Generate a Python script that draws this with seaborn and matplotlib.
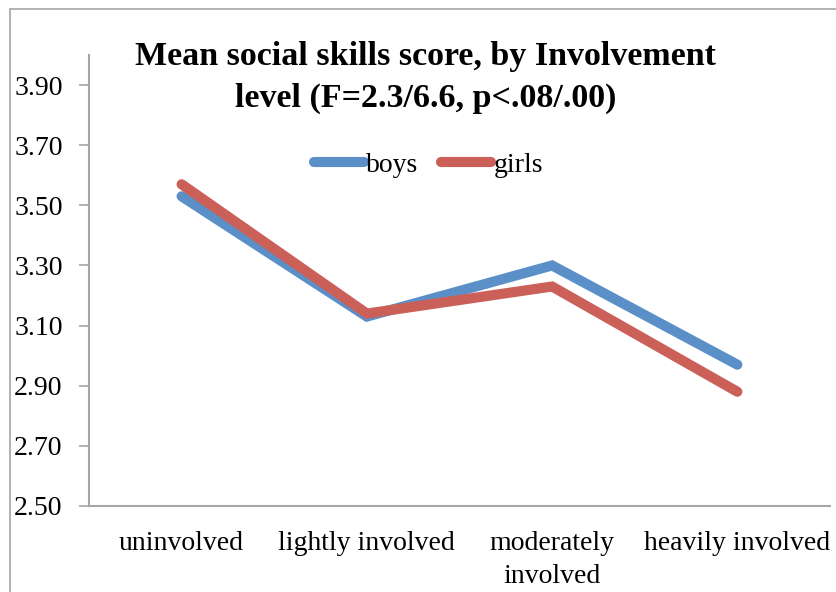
import numpy as np
import pandas as pd
import matplotlib
matplotlib.use('Agg')
import matplotlib.pyplot as plt
from matplotlib.lines import Line2D
import seaborn as sns

levels = ['uninvolved', 'lightly involved', 'moderately\ninvolved', 'heavily involved']
boys = [3.53, 3.13, 3.30, 2.97]
girls = [3.57, 3.14, 3.23, 2.88]
yticks = [2.50, 2.70, 2.90, 3.10, 3.30, 3.50, 3.70, 3.90]

df = pd.DataFrame({
    'level': levels * 2,
    'score': boys + girls,
    'group': ['boys'] * 4 + ['girls'] * 4,
})

sns.set_style('white')
plt.rcParams['font.family'] = ['Liberation Serif', 'DejaVu Serif']
plt.rcParams['text.color'] = 'black'
plt.rcParams['xtick.color'] = 'black'
plt.rcParams['ytick.color'] = 'black'

fig = plt.figure(figsize=(8.37, 5.92), dpi=100)
ax = fig.add_axes([0.1063, 0.1453, 0.9916 - 0.1063, 0.9071 - 0.1453])

sns.lineplot(data=df, x='level', y='score', hue='group', sort=False,
             palette={'boys': '#5B8FC8', 'girls': '#CB6058'},
             linewidth=7.3, ax=ax, legend=False)
for ln in ax.lines:
    ln.set_solid_capstyle('round')
    ln.set_solid_joinstyle('miter')

ax.set_xlim(-0.5, 3.5)
ax.set_ylim(2.5, 4.0)
ax.set_yticks(yticks)
ax.set_yticklabels(['%.2f' % v for v in yticks])
ax.set_xlabel('')
ax.set_ylabel('')
ax.tick_params(axis='y', which='major', direction='out', length=7, width=1.2,
               color='#A6A6A6', labelcolor='black', labelsize=20, pad=12, left=True)
ax.tick_params(axis='x', length=0, labelsize=20, labelcolor='black', pad=18)
for lab in ax.get_xticklabels():
    lab.set_linespacing(1.4)

for side in ['top', 'right']:
    ax.spines[side].set_visible(False)
for side in ['left', 'bottom']:
    ax.spines[side].set_color('#A6A6A6')
    ax.spines[side].set_linewidth(1.5)

handles = [Line2D([], [], color='#5B8FC8', lw=7.3, solid_capstyle='round'),
           Line2D([], [], color='#CB6058', lw=7.3, solid_capstyle='round')]
ax.legend(handles, ['boys', 'girls'], loc='center', bbox_to_anchor=(0.458, 0.756),
          ncol=2, frameon=False, fontsize=20, handlelength=1.8, handletextpad=0.1,
          columnspacing=0.8)

fig.text(0.508, 0.905, 'Mean social skills score, by Involvement',
         ha='center', va='center', fontsize=24.5, fontweight='bold')
fig.text(0.508, 0.834, 'level (F=2.3/6.6, p<.08/.00)',
         ha='center', va='center', fontsize=24.5, fontweight='bold')

# outer chart frame
fig.add_artist(Line2D([0.012, 0.012], [0, 0.985], transform=fig.transFigure,
                      color='#A6A6A6', lw=1.2))
fig.add_artist(Line2D([0.012, 1.0], [0.985, 0.985], transform=fig.transFigure,
                      color='#A6A6A6', lw=1.2))

fig.savefig('out.png', dpi=100)
